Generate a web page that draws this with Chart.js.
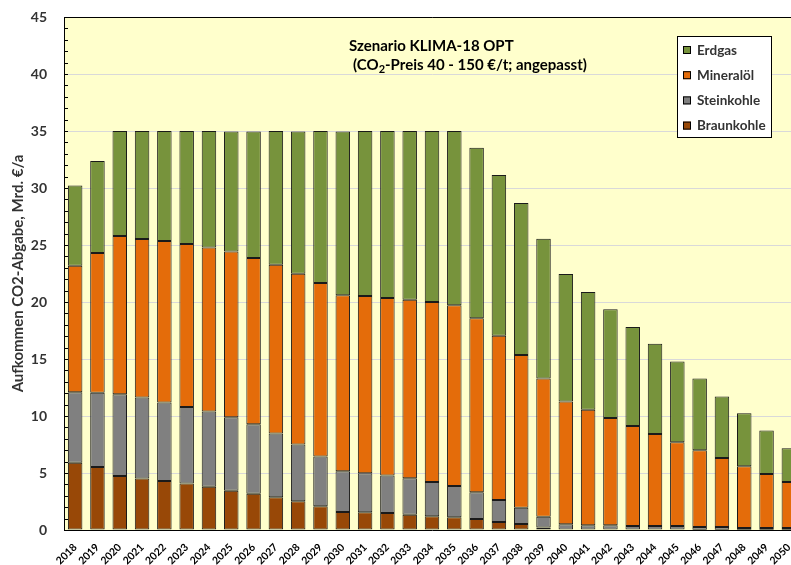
<!DOCTYPE html>
<html>
<head>
<meta charset="utf-8">
<title>CO2-Abgabe Szenario KLIMA-18 OPT</title>
<script src="https://cdn.jsdelivr.net/npm/chart.js@4.4.1/dist/chart.umd.min.js"></script>
<style>
html,body{margin:0;padding:0;background:#fff;overflow:hidden;}
#wrap{width:800px;height:565px;position:relative;}
</style>
</head>
<body>
<div id="wrap"><canvas id="co2Chart"></canvas></div>
<script>
/* ================= DATA ================= */

const years=["2018","2019","2020","2021","2022","2023","2024","2025","2026","2027","2028",
"2029","2030","2031","2032","2033","2034","2035","2036","2037","2038","2039",
"2040","2041","2042","2043","2044","2045","2046","2047","2048","2049","2050"];

const braunkohle=[5.91,5.53,4.74,4.51,4.30,4.07,3.80,3.45,3.18,2.87,2.52,
2.08,1.58,1.55,1.49,1.34,1.20,1.11,0.97,0.70,0.53,0.23,
0.05,0.04,0.04,0.04,0.04,0.04,0.03,0.03,0.03,0.03,0.03];

const steinkohle=[6.18,6.50,7.17,7.11,6.88,6.73,6.59,6.44,6.10,5.59,4.97,
4.36,3.57,3.42,3.28,3.20,3.01,2.75,2.34,1.93,1.43,0.94,
0.45,0.37,0.37,0.31,0.31,0.31,0.23,0.23,0.15,0.15,0.15];

const mineraloel=[11.09,12.26,13.87,13.90,14.17,14.28,14.40,14.55,14.57,14.81,14.99,
15.22,15.45,15.55,15.57,15.65,15.78,15.86,15.27,14.40,13.38,12.11,
10.77,10.13,9.42,8.78,8.08,7.35,6.74,6.06,5.41,4.74,4.03];

const erdgas=[7.05,8.08,9.22,9.48,9.65,9.92,10.21,10.51,11.10,11.73,12.47,
13.34,14.35,14.48,14.66,14.81,15.01,15.28,14.96,14.11,13.34,12.27,
11.18,10.33,9.54,8.67,7.90,7.08,6.28,5.39,4.65,3.80,2.96];

const seriesNames=["Braunkohle","Steinkohle","Mineralöl","Erdgas"];
const seriesColors=["#984807","#808080","#E46C0A","#77933C"];

const titleLine1="Szenario KLIMA-18 OPT";
const titleLine2=["(CO","2","-Preis 40 - 150 €/t; angepasst)"];
const yAxisTitle="Aufkommen CO2-Abgabe, Mrd. €/a";

const FONT="Lato";


/* ================= PLUGINS ================= */

// yellow plot background
const plotBackground={
id:"plotBackground",
beforeDraw(chart){
const {ctx,chartArea:a}=chart;
ctx.save();
ctx.fillStyle="#FFFFCC";
ctx.fillRect(a.left,a.top,a.right-a.left,a.bottom-a.top);
ctx.restore();
}
};

// frame, minor ticks, title and legend on top of the bars
const plotOverlay={
id:"plotOverlay",
afterDraw(chart){
const {ctx,chartArea:a}=chart;
const y=chart.scales.y;

ctx.save();

// frame
ctx.strokeStyle="#000";
ctx.lineWidth=1;
ctx.beginPath();
ctx.moveTo(a.left+0.5,a.bottom+0.5);
ctx.lineTo(a.left+0.5,a.top+0.5);
ctx.lineTo(a.right,a.top+0.5);
ctx.stroke();

// minor ticks inside the y axis
ctx.beginPath();
for(let v=1;v<45;v++){
const py=Math.round(y.getPixelForValue(v))+0.5;
ctx.moveTo(a.left,py);
ctx.lineTo(a.left+4,py);
}
ctx.stroke();

// title
ctx.fillStyle="#000";
ctx.textBaseline="middle";
ctx.textAlign="left";
ctx.font="bold 15px "+FONT;
ctx.fillText(titleLine1,349,46);

let x=353;
ctx.fillText(titleLine2[0],x,65);
x+=ctx.measureText(titleLine2[0]).width;
ctx.font="bold 11px "+FONT;
ctx.fillText(titleLine2[1],x,69);
x+=ctx.measureText(titleLine2[1]).width;
ctx.font="bold 15px "+FONT;
ctx.fillText(titleLine2[2],x,65);

// legend
const lx=677,ly=36,lw=94,lh=101;
ctx.fillStyle="#fff";
ctx.fillRect(lx,ly,lw,lh);
ctx.strokeStyle="#000";
ctx.strokeRect(lx+0.5,ly+0.5,lw,lh);

ctx.font="bold 13.5px "+FONT;
const items=chart.data.datasets.slice().reverse();
items.forEach((ds,i)=>{
const cy=50+i*25.2;
ctx.fillStyle=ds.backgroundColor;
ctx.fillRect(683,cy-4,8,8);
ctx.strokeStyle="#000";
ctx.strokeRect(683.5,cy-3.5,7,7);
ctx.fillStyle="#333";
ctx.fillText(ds.label,697,cy+0.5);
});

ctx.restore();
}
};


/* ================= CHART ================= */

const values=[braunkohle,steinkohle,mineraloel,erdgas];

const datasets=seriesNames.map((name,i)=>({
label:name,
data:values[i],
backgroundColor:seriesColors[i],
borderColor:"#1a1a1a",
borderWidth:1,
borderSkipped:false,
barPercentage:0.65,
categoryPercentage:1
}));

new Chart(document.getElementById("co2Chart"),{
type:"bar",
data:{labels:years,datasets},
options:{
responsive:true,
maintainAspectRatio:false,
animation:false,
layout:{padding:{top:17,left:0,right:0,bottom:0}},
plugins:{
legend:{display:false},
tooltip:{enabled:false}
},
scales:{
x:{
stacked:true,
grid:{display:false,drawTicks:false},
border:{color:"#000",width:1},
ticks:{
autoSkip:false,
minRotation:45,
maxRotation:45,
padding:11,
color:"#000",
font:{family:FONT,size:10.5,weight:"bold"}
},
afterFit(scale){
scale.height=35;
scale.paddingLeft=0;
scale.paddingRight=0;
}
},
y:{
stacked:true,
min:0,
max:45,
grid:{color:"#D9D9D9",drawTicks:false},
border:{color:"#000",width:1},
ticks:{
stepSize:5,
padding:17,
color:"#333",
font:{family:FONT,size:14,weight:"bold"}
},
title:{
display:true,
text:yAxisTitle,
color:"#333",
padding:{top:9,bottom:0},
font:{family:FONT,size:15,weight:"bold"}
},
afterFit(scale){
scale.width=64;
scale.paddingTop=0;
scale.paddingBottom=0;
}
}
}
},
plugins:[plotBackground,plotOverlay]
});
</script>
</body>
</html>
